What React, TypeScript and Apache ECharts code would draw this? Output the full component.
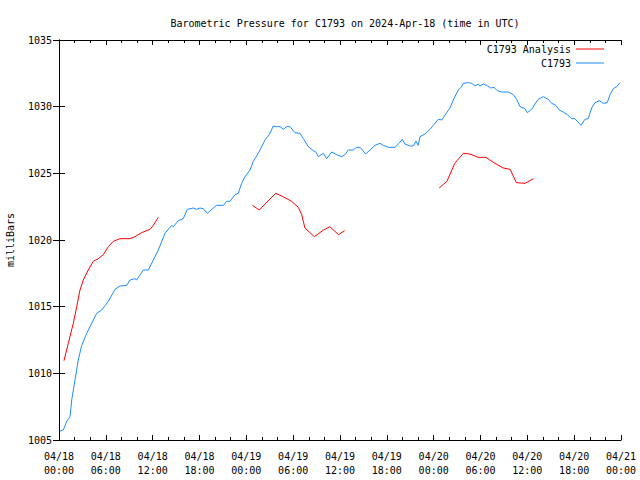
import React, { useEffect, useRef } from "react";
import * as echarts from "echarts";

// Hours since 2024-04-18 00:00 UTC, pressure in millibars
const analysisHours1 = [0.64, 1.19, 1.83, 2.27, 2.69, 3.11, 3.75, 4.39, 5.03, 5.68, 6.32, 6.96, 7.81, 9.1, 9.74, 10.59, 11.66, 12.08, 12.72];
const analysisMb1 = [1010.95, 1012.25, 1013.75, 1015.0, 1016.25, 1017.0, 1017.75, 1018.4, 1018.6, 1018.9, 1019.5, 1019.9, 1020.1, 1020.1, 1020.25, 1020.55, 1020.8, 1021.1, 1021.7];
const analysisHours2 = [24.77, 25.66, 26.4, 27.76, 28.7, 29.8, 30.66, 31.1, 31.5, 32.7, 33.9, 34.7, 35.8, 36.6];
const analysisMb2 = [1022.6, 1022.25, 1022.7, 1023.5, 1023.25, 1022.9, 1022.45, 1021.9, 1020.9, 1020.25, 1020.75, 1021.0, 1020.4, 1020.7];
const analysisHours3 = [48.7, 49.7, 50.7, 51.8, 52.65, 53.7, 54.7, 55.85, 56.9, 57.8, 58.6, 59.7, 60.8];
const analysisMb3 = [1023.9, 1024.4, 1025.75, 1026.5, 1026.45, 1026.2, 1026.2, 1025.75, 1025.4, 1025.3, 1024.3, 1024.25, 1024.6];

const stationHours = [
  0.13, 0.55, 0.99, 1.41, 1.63, 2.05, 2.47, 2.91, 3.55, 4.19, 4.83, 5.47, 6.32, 7.17, 7.81, 8.67, 9.1, 9.74, 9.95,
  10.8, 11.44, 12.08, 12.72, 13.58, 14.44, 14.64, 15.28, 15.92, 16.44, 17.2, 17.64, 18.06, 18.49, 19.0, 19.77,
  20.2, 21.05, 21.48, 21.91, 22.55, 22.97, 23.4, 23.83, 24.47, 24.89, 25.53, 26.39, 26.94, 27.45, 27.89, 28.31,
  28.73, 29.17, 29.59, 30.23, 30.87, 31.3, 31.94, 32.58, 32.92, 33.22, 33.86, 34.29, 34.93, 35.58, 36.22, 36.64,
  37.06, 37.7, 38.14, 38.56, 39.29, 39.84, 40.48, 41.12, 41.55, 42.19, 43.04, 43.56, 43.98, 44.32, 45.0, 45.39,
  45.73, 46.03, 46.25, 46.89, 47.53, 47.95, 48.59, 49.03, 49.67, 50.09, 50.51, 51.15, 51.59, 51.79, 52.43, 52.87,
  53.29, 53.71, 53.93, 54.36, 54.79, 55.3, 55.73, 56.15, 56.71, 57.56, 58.2, 58.63, 59.06, 59.7, 59.99, 60.56,
  60.98, 61.4, 62.04, 62.68, 63.12, 63.67, 64.09, 64.6, 65.12, 65.68, 66.1, 66.4, 66.87, 67.38, 67.81, 68.24,
  68.67, 69.22, 69.73, 70.24, 70.59, 71.01, 71.45, 71.87,
];
const stationMb = [
  1005.67, 1005.75, 1006.4, 1006.75, 1008.0, 1009.5, 1011.0, 1012.1, 1013.0, 1013.75, 1014.5, 1014.75, 1015.4, 1016.3, 1016.55, 1016.6, 1017.0, 1017.1, 1017.0,
  1017.75, 1017.75, 1018.5, 1019.25, 1020.5, 1021.1, 1021.0, 1021.45, 1021.6, 1022.3, 1022.4, 1022.3, 1022.4, 1022.35, 1022.0, 1022.4,
  1022.6, 1022.6, 1022.9, 1022.9, 1023.4, 1023.5, 1024.25, 1024.75, 1025.25, 1025.9, 1026.5, 1027.5, 1027.9, 1028.55, 1028.5, 1028.5,
  1028.3, 1028.5, 1028.5, 1028.05, 1028.0, 1027.6, 1027.0, 1026.7, 1026.6, 1026.25, 1026.5, 1026.1, 1026.6, 1026.4, 1026.25, 1026.4,
  1026.75, 1026.75, 1026.95, 1026.95, 1026.45, 1026.75, 1027.1, 1027.25, 1027.1, 1026.95, 1026.95, 1027.25, 1027.55, 1027.2, 1027.05, 1027.05,
  1027.4, 1027.1, 1027.75, 1027.95, 1028.3, 1028.6, 1029.05, 1029.0, 1029.55, 1029.9, 1030.5, 1031.25, 1031.5, 1031.75, 1031.8, 1031.75,
  1031.55, 1031.7, 1031.55, 1031.7, 1031.6, 1031.4, 1031.45, 1031.2, 1031.1, 1031.1, 1030.9, 1030.55, 1030.0, 1029.85, 1029.55, 1029.8,
  1030.2, 1030.55, 1030.75, 1030.55, 1030.25, 1030.1, 1029.75, 1029.6, 1029.4, 1029.1, 1029.1, 1028.9, 1028.6, 1029.05, 1029.1, 1029.9,
  1030.3, 1030.45, 1030.25, 1030.3, 1030.9, 1031.35, 1031.5, 1031.8,
];

const xMin = 0;
const xMax = 72;
const xStep = 6;
const yMin = 1005;
const yMax = 1035;
const yStep = 5;

const FONT = "'DejaVu Sans Mono', 'Liberation Mono', monospace";

function zip(h: number[], v: number[]) {
  return h.map((x, i) => [x, v[i]]);
}

function fmtTime(h: number) {
  const day = 18 + Math.floor(h / 24);
  const hh = Math.round(h % 24);
  return `04/${day}\n${hh < 10 ? "0" + hh : hh}:00`;
}

export default function App() {
  const ref = useRef<HTMLDivElement>(null);
  useEffect(() => {
    if (!ref.current) return;
    const chart = echarts.init(ref.current, undefined, { renderer: "svg" });
    const analysisData: any[] = [
      ...zip(analysisHours1, analysisMb1),
      [18, null],
      ...zip(analysisHours2, analysisMb2),
      [42, null],
      ...zip(analysisHours3, analysisMb3),
    ];
    const axisLine = { show: true, lineStyle: { color: "#000", width: 1 } };
    const baseX = {
      type: "value" as const,
      min: xMin,
      max: xMax,
      interval: xStep,
      axisLine,
      splitLine: { show: false },
      axisTick: { show: true, inside: true, length: 5, lineStyle: { color: "#000" } },
      minorTick: { show: true, splitNumber: 3, length: 3, lineStyle: { color: "#000" } },
    };
    const baseY = {
      type: "value" as const,
      min: yMin,
      max: yMax,
      interval: yStep,
      axisLine,
      splitLine: { show: false },
      axisTick: { show: true, inside: true, length: 6, lineStyle: { color: "#000" } },
    };
    chart.setOption({
      animation: false,
      backgroundColor: "#fff",
      textStyle: { fontFamily: FONT },
      title: {
        text: "Barometric Pressure for C1793 on 2024-Apr-18 (time in UTC)",
        left: 340,
        textAlign: "center",
        top: 13,
        textStyle: { fontFamily: FONT, fontSize: 10, fontWeight: "normal", color: "#000" },
      },
      legend: {
        orient: "vertical",
        right: 31,
        top: 39,
        align: "right",
        itemWidth: 28,
        itemHeight: 1,
        itemGap: 4,
        textStyle: { fontFamily: FONT, fontSize: 10, color: "#000" },
        data: [
          { name: "C1793 Analysis", icon: "rect" },
          { name: "C1793", icon: "rect" },
        ],
      },
      grid: { left: 59, right: 19, top: 40, bottom: 40, containLabel: false, outerBoundsMode: "none" },
      xAxis: [
        {
          ...baseX,
          position: "bottom",
          axisLabel: {
            show: true,
            margin: 9,
            fontFamily: FONT,
            fontSize: 10,
            lineHeight: 14,
            color: "#000",
            formatter: (v: number) => fmtTime(v),
          },
        },
        { ...baseX, position: "top", axisLabel: { show: false } },
      ],
      yAxis: [
        {
          ...baseY,
          position: "left",
          name: "milliBars",
          nameLocation: "middle",
          nameGap: 44,
          nameRotate: 90,
          nameTextStyle: { fontFamily: FONT, fontSize: 10, color: "#000" },
          axisLabel: {
            show: true,
            margin: 7,
            fontFamily: FONT,
            fontSize: 10,
            color: "#000",
            formatter: (v: number) => String(v),
          },
        },
        { ...baseY, position: "right", axisLabel: { show: false } },
      ],
      series: [
        {
          name: "C1793 Analysis",
          type: "line",
          xAxisIndex: 0,
          yAxisIndex: 0,
          data: analysisData,
          showSymbol: false,
          connectNulls: false,
          color: "#ff0000",
          lineStyle: { color: "#ff0000", width: 1 },
        },
        {
          name: "C1793",
          type: "line",
          xAxisIndex: 0,
          yAxisIndex: 0,
          data: zip(stationHours, stationMb),
          showSymbol: false,
          color: "#1a8cff",
          lineStyle: { color: "#1a8cff", width: 1 },
        },
      ],
    });
    return () => chart.dispose();
  }, []);
  return <div ref={ref} style={{ width: 640, height: 480, position: "absolute", left: 0, top: 0 }} />;
}
